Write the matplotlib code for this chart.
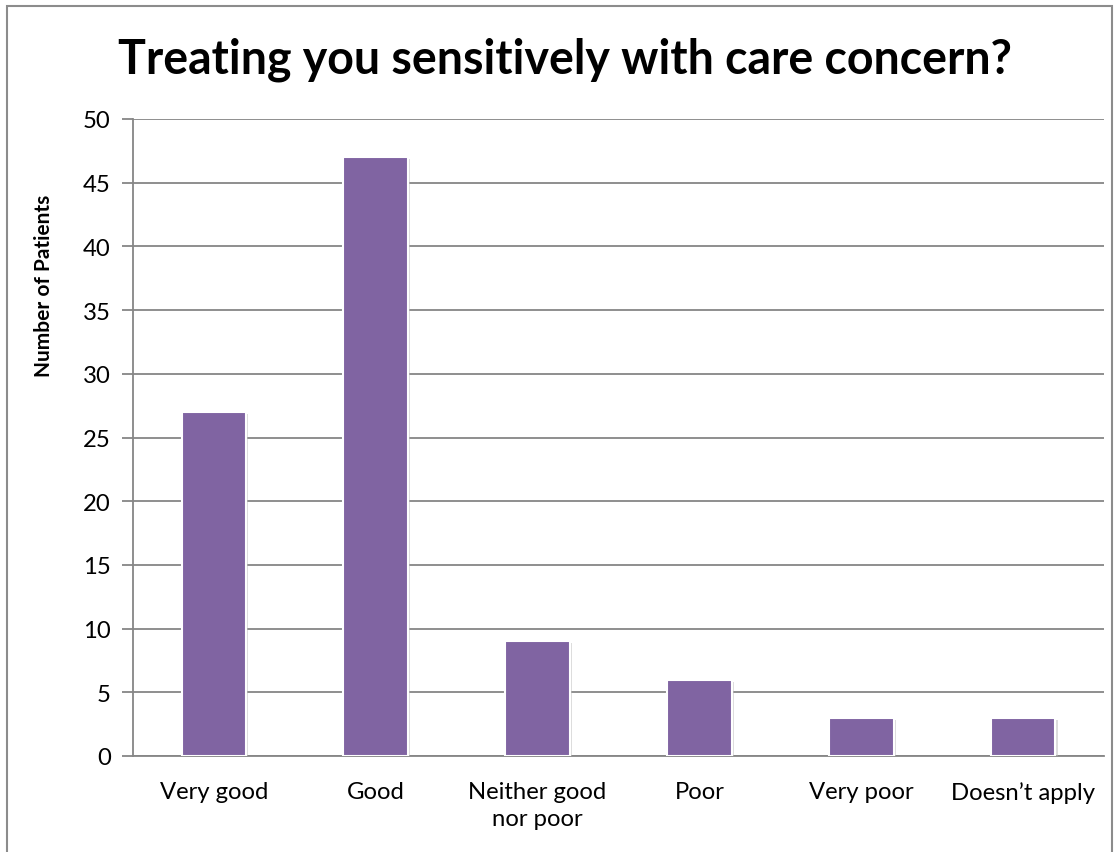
import matplotlib.pyplot as plt
import matplotlib.patheffects as pe
from matplotlib.patches import Rectangle
import numpy as np

categories = ["Very good", "Good", "Neither good\nnor poor", "Poor", "Very poor", "Doesn\u2019t apply"]
patients = [27, 47, 9, 6, 3, 3]

plt.rcParams['font.family'] = ['Lato', 'DejaVu Sans']

fig = plt.figure(figsize=(11.2, 8.53), dpi=100)
ax = fig.add_axes([133 / 1120, 1 - 757 / 853, (1104 - 133) / 1120, (757 - 120) / 853])

# outer chart border
fig.patches.append(Rectangle((7 / 1120, -0.05), (1112 - 7) / 1120, 1 - 7 / 853 + 0.05,
                             transform=fig.transFigure, fill=False,
                             edgecolor='#8c8c8c', linewidth=1.5))

x = np.arange(len(categories))
bars = ax.bar(x, patients, width=0.4, color='#8064A2', edgecolor='white',
              linewidth=1.5, zorder=3)
for b in bars:
    b.set_path_effects([pe.SimplePatchShadow(offset=(1.5, -1.5), shadow_rgbFace='#bbbbbb', alpha=0.5),
                        pe.Normal()])

ax.set_xlim(-0.5, len(categories) - 0.5)
ax.set_ylim(0, 50)
ax.set_yticks(np.arange(0, 51, 5))
ax.yaxis.grid(True, color='#868686', linewidth=1.3, zorder=0)
ax.set_axisbelow(True)

for side in ['top', 'right']:
    ax.spines[side].set_visible(False)
ax.spines['left'].set_color('#868686')
ax.spines['bottom'].set_color('#868686')
ax.spines['left'].set_linewidth(1.3)
ax.spines['bottom'].set_linewidth(1.3)

ax.set_xticks(x)
ax.set_xticklabels(categories, fontsize=17.2, linespacing=1.35)
ax.tick_params(axis='x', length=0, pad=18)
ax.tick_params(axis='y', length=8, width=1.3, color='#868686', labelsize=17.2, pad=8)

fig.text(44 / 1120, 1 - 286 / 853, 'Number of Patients', rotation=90,
         ha='center', va='center', fontsize=15, fontweight='bold')
fig.text(565 / 1120, 1 - 60 / 853, 'Treating you sensitively with care concern?',
         ha='center', va='center', fontsize=33.5, fontweight='bold')

fig.savefig('out.png', dpi=100)
